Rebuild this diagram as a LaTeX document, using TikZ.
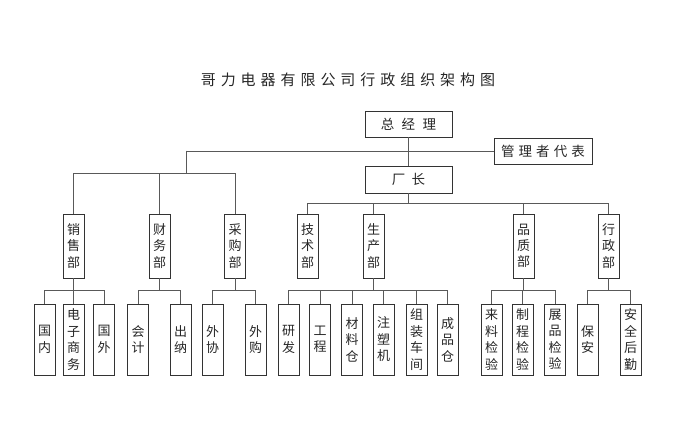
\documentclass[tikz,border=0pt]{standalone}
\usepackage{fontspec}
\newfontfamily\cjk{Noto Sans CJK SC}

\tikzset{
box/.style={draw=black!80, line width=0.9pt, inner sep=0pt, text=black!85},
topbox/.style={box, minimum height=26pt},
bu/.style={box, minimum width=21pt, minimum height=64pt, align=center, font=\cjk\fontsize{13}{16.2}\selectfont},
zu/.style={box, minimum width=21pt, minimum height=71pt, align=center, font=\cjk\fontsize{13}{16.5}\selectfont},
lk/.style={draw=black!65, line width=0.7pt},
}

\begin{document}
\begin{tikzpicture}[x=1pt,y=-1pt]
\useasboundingbox (0,0) rectangle (699,427);
\node[text=black!85, font=\cjk\addfontfeature{LetterSpace=33}\fontsize{15}{18}\selectfont] (title) at (348,80) {哥力电器有限公司行政组织架构图};
% top
\node[topbox, minimum width=87pt, font=\cjk\addfontfeature{LetterSpace=55}\fontsize{13.5}{16}\selectfont] (zjl) at (408.5,124) {总经理};
\node[topbox, minimum width=98pt, font=\cjk\addfontfeature{LetterSpace=30}\fontsize{13.5}{16}\selectfont] (glzdb) at (543,151) {管理者代表};
\node[topbox, minimum width=87pt, minimum height=27pt, font=\cjk\addfontfeature{LetterSpace=48}\fontsize{13.5}{16}\selectfont] (cz) at (408.5,179.5) {厂长};
% departments
\foreach \x/\t/\n in {73.5/销\\售\\部/xsb, 159.5/财\\务\\部/cwb, 235/采\\购\\部/cgb, 307.5/技\\术\\部/jsb,
  373.5/生\\产\\部/scb, 523.5/品\\质\\部/pzb, 608.5/行\\政\\部/xzb}
\node[bu] (\n) at (\x,246) {\t};
% sections
\foreach \x/\t/\n in {44.5/国\\内/gn, 73.5/电\\子\\商\\务/dzsw, 104/国\\外/gw, 138/会\\计/kj, 180.5/出\\纳/cn,
  212.5/外\\协/wx, 255.5/外\\购/wg, 288.5/研\\发/yf, 320/工\\程/gc, 352/材\\料\\仓/clc,
  383.5/注\\塑\\机/zsj, 416.5/组\\装\\车\\间/zzcj, 447.5/成\\品\\仓/cpc, 491.5/来\\料\\检\\验/lljy,
  522.5/制\\程\\检\\验/zcjy, 555/展\\品\\检\\验/zpjy, 587.5/保\\安/ba, 630.5/安\\全\\后\\勤/aqhq}
\node[zu] (\n) at (\x,339.5) {\t};
% links
\coordinate (zx) at (186,151);
\draw[lk] (zjl) -- (cz);
\draw[lk] (glzdb.west) -- (zx);
\foreach \n in {xsb,cwb,cgb}
\draw[lk] (zx) -- ++(0,22) -| (\n.north);
\foreach \n in {jsb,scb,pzb,xzb}
\draw[lk] (cz.south) -- ++(0,10) -| (\n.north);
\foreach \p/\n in {xsb/gn,xsb/dzsw,xsb/gw,cwb/kj,cwb/cn,cgb/wx,cgb/wg,
  scb/yf,scb/gc,scb/clc,scb/zsj,scb/zzcj,scb/cpc,pzb/lljy,pzb/zcjy,pzb/zpjy,xzb/ba,xzb/aqhq}
\draw[lk] (\p.south) -- ++(0,12) -| (\n.north);
\end{tikzpicture}
\end{document}
